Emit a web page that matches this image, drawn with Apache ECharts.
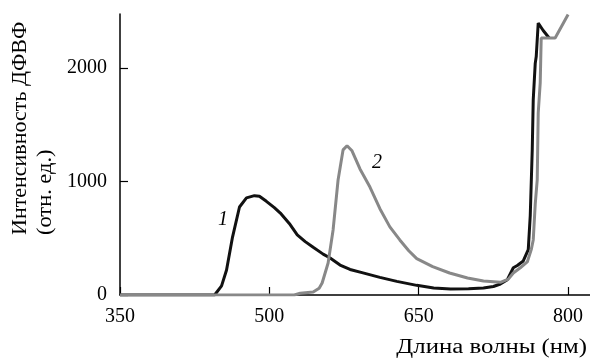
<!DOCTYPE html>
<html>
<head>
<meta charset="utf-8">
<script src="https://cdn.jsdelivr.net/npm/echarts@6/dist/echarts.min.js"></script>
<style>
  html, body { margin: 0; padding: 0; background: #fff; }
  #chart { width: 590px; height: 358px; }
</style>
</head>
<body>
<div id="chart"></div>
<script>
// spectrum 1 (black)
const wave1 = [350, 445, 452, 457, 463, 470, 477, 485, 490, 497, 505, 511, 520, 528, 536, 544, 554, 561, 571, 581, 594, 611, 628, 648, 665, 682, 700, 715, 725, 732, 739, 745, 749, 755, 760, 762, 764, 765, 767, 768, 770, 775, 781]
const int1 = [0, 0, 80, 220, 510, 775, 855, 875, 870, 825, 770, 722, 630, 530, 470, 420, 360, 326, 264, 225, 195, 155, 120, 85, 62, 53, 55, 62, 75, 97, 135, 240, 260, 300, 400, 700, 1280, 1720, 2040, 2100, 2396, 2330, 2264]

// spectrum 2 (grey)
const wave2 = [350, 525, 531, 544, 550, 553, 559, 564, 569, 574, 578, 583, 591, 601, 611, 621, 631, 640, 648, 664, 681, 699, 715, 732, 740, 745, 752, 759, 763, 765, 767, 769, 770, 772, 773, 787, 800]
const int2 = [0, 0, 15, 26, 60, 106, 282, 573, 1013, 1278, 1315, 1270, 1110, 951, 760, 600, 485, 390, 320, 250, 194, 150, 123, 112, 140, 194, 240, 291, 400, 485, 800, 1013, 1603, 1868, 2264, 2264, 2470]

const xTicks = [350, 500, 650, 800]
const yTicks = [0, 1000, 2000]

const serif = "'Liberation Serif', 'DejaVu Serif', serif"

const chart = echarts.init(document.getElementById("chart"))

const pairs = (xs, ys) => xs.map((x, i) => [x, ys[i]])

chart.setOption({
  animation: false,
  grid: { left: 120, right: 0, top: 14, bottom: 63 },
  xAxis: {
    type: "value",
    min: 350,
    max: 822,
    splitLine: { show: false },
    axisLine: { lineStyle: { color: "#000", width: 1.5 } },
    axisTick: { inside: true, length: 8, customValues: xTicks, lineStyle: { color: "#000", width: 1.2 } },
    axisLabel: { customValues: xTicks, margin: 12, color: "#000", fontSize: 20, fontFamily: serif },
  },
  yAxis: {
    type: "value",
    min: 0,
    max: 2475,
    splitLine: { show: false },
    axisLine: { show: true, lineStyle: { color: "#000", width: 1.5 } },
    axisTick: { show: true, inside: true, length: 8, customValues: yTicks, lineStyle: { color: "#000", width: 1.2 } },
    axisLabel: {
      customValues: yTicks, margin: 13, color: "#000", fontSize: 20, fontFamily: serif,
      formatter: (v) => String(v),
    },
  },
  series: [
    {
      type: "line",
      data: pairs(wave1, int1),
      showSymbol: false,
      lineStyle: { color: "#111", width: 3 },
      z: 2,
    },
    {
      type: "line",
      data: pairs(wave2, int2),
      showSymbol: false,
      lineStyle: { color: "#888", width: 3 },
      z: 3,
    },
  ],
  graphic: [
    {
      type: "text", x: 21, y: 235, rotation: Math.PI / 2, scaleX: 1.1,
      style: { text: "Интенсивность ДФВФ", font: "20px " + serif, fill: "#000", textAlign: "left", textVerticalAlign: "middle" },
    },
    {
      type: "text", x: 46, y: 235, rotation: Math.PI / 2, scaleX: 1.12,
      style: { text: "(отн. ед.)", font: "20px " + serif, fill: "#000", textAlign: "left", textVerticalAlign: "middle" },
    },
    {
      type: "text", x: 587, y: 348, scaleX: 1.24,
      style: { text: "Длина волны (нм)", font: "20px " + serif, fill: "#000", textAlign: "right", textVerticalAlign: "middle" },
    },
    {
      type: "text", x: 223, y: 220,
      style: { text: "1", font: "italic 20px " + serif, fill: "#000", textAlign: "center", textVerticalAlign: "middle" },
    },
    {
      type: "text", x: 377, y: 163,
      style: { text: "2", font: "italic 20px " + serif, fill: "#000", textAlign: "center", textVerticalAlign: "middle" },
    },
  ],
})
</script>
</body>
</html>
